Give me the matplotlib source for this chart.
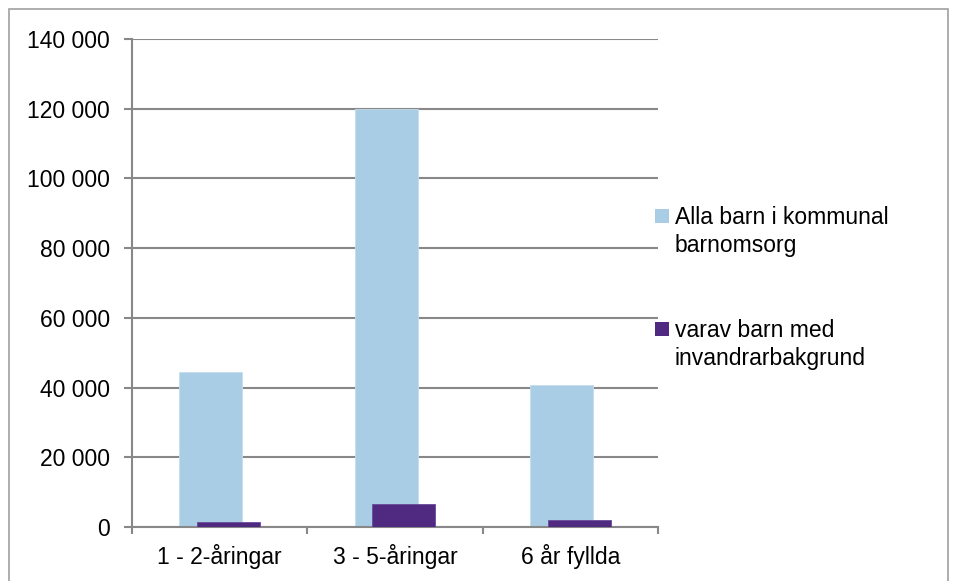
import matplotlib
matplotlib.use("Agg")
from matplotlib import pyplot as plt
from matplotlib.patches import Rectangle
import numpy as np

plt.rcParams['font.family'] = ['Liberation Sans', 'DejaVu Sans']

# Data
categories = ["1 - 2-åringar", "3 - 5-åringar", "6 år fyllda"]
alla_barn = [44500, 120000, 40700]
invandrar = [1500, 6700, 2100]
series_names = ["Alla barn i kommunal\nbarnomsorg", "varav barn med\ninvandrarbakgrund"]
yticks = [0, 20000, 40000, 60000, 80000, 100000, 120000, 140000]

light_blue = "#A9CDE4"
purple = "#4F2A80"
grid_gray = "#888888"
FS = 16.5

W, H = 956, 581
fig = plt.figure(figsize=(W / 100, H / 100), dpi=100)

# outer chart border
fig.patches.append(Rectangle((9 / W, -0.05), (948 - 9) / W, (H - 9) / H + 0.05,
                             transform=fig.transFigure, fill=False,
                             edgecolor="#A0A0A0", linewidth=1.2))

ax = fig.add_axes([132 / W, (H - 527) / H, (658 - 132) / W, (527 - 39) / H])

x = np.arange(len(categories))
width = 0.36
ax.bar(x - 0.05, alla_barn, width, color=light_blue, zorder=2,
       edgecolor="#C5DDEE", linewidth=0.6)
ax.bar(x + 0.05, invandrar, width, color=purple, zorder=3,
       edgecolor="#6A4A9A", linewidth=0.6)

ax.set_xlim(-0.5, len(categories) - 0.5)
ax.set_ylim(0, 140000)
ax.set_yticks(yticks)
ax.set_yticklabels([f"{v:,}".replace(",", " ") for v in yticks], fontsize=FS)
ax.set_xticks(x)
ax.set_xticklabels(categories, fontsize=FS)
ax.tick_params(axis="x", length=0, pad=12)
ax.tick_params(axis="y", length=6, color=grid_gray, width=1.5, pad=10)

# category separators on x axis
ax.set_xticks(np.arange(len(categories) + 1) - 0.5, minor=True)
ax.tick_params(axis="x", which="minor", length=5, color=grid_gray, width=1.5)

ax.grid(axis="y", color=grid_gray, linewidth=1.5, zorder=1)
for s in ["top", "right"]:
    ax.spines[s].set_visible(False)
for s in ["left", "bottom"]:
    ax.spines[s].set_color(grid_gray)
    ax.spines[s].set_linewidth(1.5)

# legend drawn by hand: square aligned with the first text line
for name, color, y_top in zip(series_names, [light_blue, purple], [209, 322]):
    fig.patches.append(Rectangle((655 / W, (H - y_top - 14) / H), 14 / W, 14 / H,
                                 transform=fig.transFigure, facecolor=color,
                                 edgecolor="none"))
    fig.text(675 / W, (H - y_top + 3) / H, name, fontsize=FS, va="top",
             ha="left", linespacing=1.3)

fig.savefig("out.png", dpi=100)
